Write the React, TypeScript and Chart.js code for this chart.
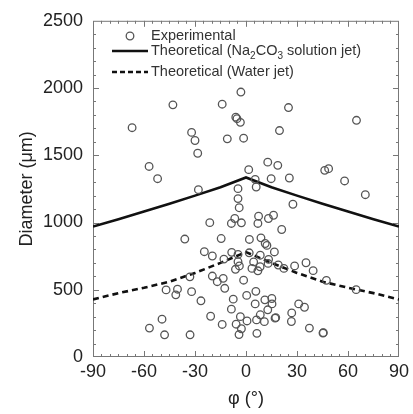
import React, { useEffect, useRef } from "react";
import { Chart, registerables } from "chart.js";

Chart.register(...registerables);

const expPhi = [
  -67, -43, -14, -3, 25, 65, -6, -5.3, -3.3, -32, -30, -28.4, -11, -1.4, 19.7, -57, -52, -28, 1.6, 12.8,
  18.7, 14.8, 25.5, 46.3, 48.6, 58, 70.2, 27.6, 5.4, 6, -4.7, -4.7, -4, -6.6, -8.6, -2.7, 7.4, 7, 13.2, 16.2,
  21, 2, 8.8, -21.3, -36, -14.6,
  -24.5, -19.8, -13, -8.4, -4.7, -4.7, -6.2, -3.9, 11.3, 12.3, 1.9, 4.5, 8.4, 13.3, 13, 16.7, 3.5, 7, 8.3, 19,
  22.3, 28.6, 35.3, 39.5, 47.3, 64.8, -33, -19.8, -16.9, -13.4, -12.5, -1.4, -47, -40.3, -41.3, -32, -26.5, -7.5,
  -8.6, 0.4, 5.8, 5.4, 11.1, 15.2, 15.3, 12.8, 8.4, 17.1, 17.5, -20.8, -14, -49.4, -56.8, -47.9, -32.9, -5.8,
  -3.3, -2.7, -4.1, 0.6, 6.2, 10.8, 6.4, 26.9, 26.7, 31, 34.4, 37.3, 45.3, 45.5,
];
const expDiameter = [
  1705, 1875, 1880, 1970, 1855, 1760, 1783, 1772, 1745, 1670, 1610, 1515, 1622, 1627, 1684, 1417, 1326, 1244, 1393, 1449,
  1425, 1326, 1331, 1388, 1400, 1309, 1207, 1136, 1321, 1264, 1252, 1178, 1110, 1030, 993, 998, 1047, 993, 1030, 1054,
  948, 874, 886, 999, 877, 881,
  783, 751, 728, 778, 763, 709, 652, 677, 844, 830, 775, 707, 757, 726, 696, 781, 659, 641, 671, 684,
  659, 677, 701, 642, 570, 501, 596, 602, 560, 585, 511, 571, 499, 504, 462, 486, 418, 430,
  356, 458, 488, 395, 425, 435, 395, 351, 314, 289, 293, 303, 242, 281, 215, 165, 165, 244,
  300, 210, 167, 268, 276, 263, 176, 328, 264, 395, 370, 215, 178, 181,
];

const thPhi = [-90, -75, -60, -45, -30, -15, 0, 15, 30, 45, 60, 75, 90];
const thNa2CO3 = [970, 1025, 1082, 1140, 1200, 1262, 1335, 1262, 1200, 1140, 1082, 1025, 970];
const thWater = [428, 475, 515, 560, 625, 700, 780, 700, 625, 560, 515, 475, 428];

const xTicks = [-90, -60, -30, 0, 30, 60, 90];
const yTicks = [0, 500, 1000, 1500, 2000, 2500];

const FONT = "'Liberation Sans', Arial, 'DejaVu Sans', sans-serif";

const decorPlugin = {
  id: "decor",
  beforeDatasetsDraw(chart: any) {
    const { ctx, chartArea, scales } = chart;
    const { left, right, top, bottom } = chartArea;
    const x = scales.x;
    const y = scales.y;
    ctx.save();
    ctx.strokeStyle = "#777";
    ctx.lineWidth = 1;
    ctx.strokeRect(left + 0.5, top + 0.5, right - left - 1, bottom - top - 1);
    ctx.beginPath();
    for (let v = 100; v < 2500; v += 100) {
      const py = Math.round(y.getPixelForValue(v)) + 0.5;
      const len = v % 500 === 0 ? 6 : 3;
      ctx.moveTo(left, py);
      ctx.lineTo(left + len, py);
      ctx.moveTo(right, py);
      ctx.lineTo(right - len, py);
    }
    for (let v = -85; v < 90; v += 5) {
      const px = Math.round(x.getPixelForValue(v)) + 0.5;
      const len = v % 30 === 0 ? 6 : 3;
      ctx.moveTo(px, bottom);
      ctx.lineTo(px, bottom - len);
      ctx.moveTo(px, top);
      ctx.lineTo(px, top + len);
    }
    ctx.stroke();
    ctx.restore();
  },
  afterDraw(chart: any) {
    const { ctx, chartArea } = chart;
    const { left, right, top, bottom } = chartArea;
    ctx.save();
    // axis titles
    ctx.fillStyle = "#222";
    ctx.font = `18px ${FONT}`;
    ctx.textAlign = "center";
    ctx.textBaseline = "middle";
    ctx.save();
    ctx.translate(27, (top + bottom) / 2);
    ctx.rotate(-Math.PI / 2);
    ctx.fillText("Diameter (\u03bcm)", 0, 0);
    ctx.restore();
    ctx.fillText("\u03c6 (\u00b0)", (left + right) / 2, 399);

    // legend
    ctx.fillStyle = "#333";
    ctx.textAlign = "left";
    ctx.textBaseline = "middle";
    ctx.font = `14.5px ${FONT}`;
    const tx = 151;
    ctx.strokeStyle = "#555";
    ctx.lineWidth = 1.3;
    ctx.beginPath();
    ctx.arc(130, 36, 3.8, 0, Math.PI * 2);
    ctx.stroke();
    ctx.fillText("Experimental", tx, 36);

    ctx.strokeStyle = "#111";
    ctx.lineWidth = 2.4;
    ctx.beginPath();
    ctx.moveTo(112, 51);
    ctx.lineTo(148, 51);
    ctx.stroke();
    let cx = tx;
    const parts: [string, boolean][] = [
      ["Theoretical (Na", false],
      ["2", true],
      ["CO", false],
      ["3", true],
      [" solution jet)", false],
    ];
    for (const [t, sub] of parts) {
      ctx.font = sub ? `10px ${FONT}` : `14.5px ${FONT}`;
      ctx.fillText(t, cx, sub ? 56 : 51);
      cx += ctx.measureText(t).width;
    }
    ctx.font = `14.5px ${FONT}`;
    ctx.beginPath();
    ctx.setLineDash([5, 3]);
    ctx.moveTo(112, 72);
    ctx.lineTo(148, 72);
    ctx.stroke();
    ctx.setLineDash([]);
    ctx.fillText("Theoretical (Water jet)", tx, 72);
    ctx.restore();
  },
};

export default function App() {
  const ref = useRef<HTMLCanvasElement | null>(null);
  useEffect(() => {
    document.body.style.margin = "0";
    if (!ref.current) return;
    const chart = new Chart(ref.current, {
      type: "scatter",
      data: {
        datasets: [
          {
            label: "Experimental",
            data: expPhi.map((p, i) => ({ x: p, y: expDiameter[i] })),
            pointStyle: "circle",
            pointRadius: 3.8,
            pointBorderWidth: 1.3,
            borderColor: "#555",
            backgroundColor: "rgba(0,0,0,0)",
            showLine: false,
          },
          {
            type: "line",
            label: "Theoretical (Na2CO3 solution jet)",
            data: thPhi.map((p, i) => ({ x: p, y: thNa2CO3[i] })),
            borderColor: "#111",
            borderWidth: 2.6,
            pointRadius: 0,
            fill: false,
            tension: 0,
          },
          {
            type: "line",
            label: "Theoretical (Water jet)",
            data: thPhi.map((p, i) => ({ x: p, y: thWater[i] })),
            borderColor: "#111",
            borderWidth: 2.6,
            borderDash: [6, 4],
            pointRadius: 0,
            fill: false,
            tension: 0,
          },
        ] as any,
      },
      options: {
        responsive: false,
        animation: false,
        layout: { padding: { top: 19, right: 11, left: 0, bottom: 0 } },
        plugins: { legend: { display: false }, tooltip: { enabled: false } },
        scales: {
          x: {
            type: "linear",
            min: -90,
            max: 90,
            afterBuildTicks: (s: any) => {
              s.ticks = xTicks.map((v) => ({ value: v }));
            },
            ticks: {
              font: { size: 18, family: FONT },
              color: "#222",
              padding: 4,
              maxRotation: 0,
              autoSkip: false,
              callback: (v: any) => String(v),
            },
            grid: { display: false, drawTicks: false },
            border: { display: false },
            afterFit: (s: any) => {
              s.height = 57;
            },
          },
          y: {
            min: 0,
            max: 2500,
            afterBuildTicks: (s: any) => {
              s.ticks = yTicks.map((v) => ({ value: v }));
            },
            ticks: { font: { size: 18, family: FONT }, color: "#222", padding: 10, callback: (v: any) => String(v) },
            grid: { display: false, drawTicks: false },
            border: { display: false },
            afterFit: (s: any) => {
              s.width = 93;
            },
          },
        },
      } as any,
      plugins: [decorPlugin],
    });
    return () => chart.destroy();
  }, []);
  return (
    <div style={{ position: "fixed", left: 0, top: 0, width: 413, height: 414, background: "#fff" }}>
      <canvas ref={ref} width={413} height={414} />
    </div>
  );
}
